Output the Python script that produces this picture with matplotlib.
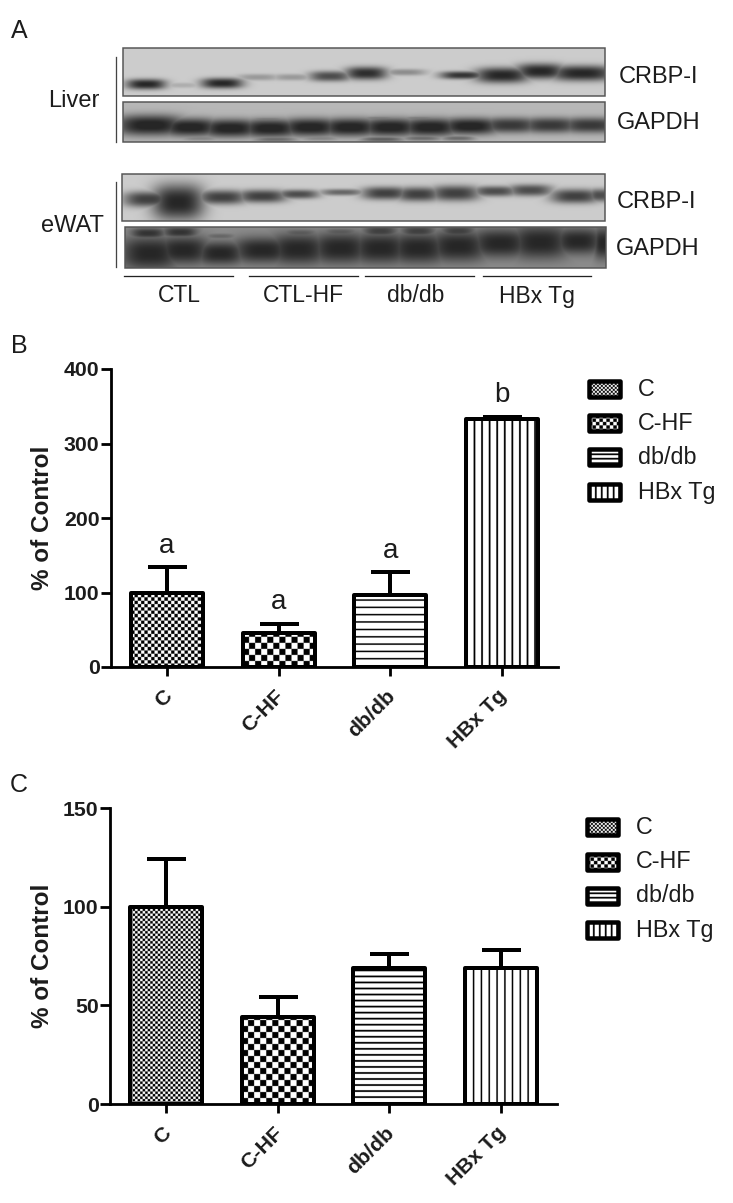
import matplotlib
matplotlib.use('Agg')
import matplotlib.pyplot as plt
import numpy as np
from matplotlib.patches import Rectangle

W, H = 733, 1203
plt.rcParams['font.family'] = ['Liberation Sans', 'DejaVu Sans']

groups = ['C', 'C-HF', 'db/db', 'HBx Tg']
blot_groups = ['CTL', 'CTL-HF', 'db/db', 'HBx Tg']

# panel B
b_vals = [100, 45, 97, 333]
b_tops = [134, 58, 127, 336]
b_ticks = [0, 100, 200, 300, 400]
b_letters = ['a', 'a', 'a', 'b']

# panel C
c_vals = [100, 44, 69, 69]
c_tops = [124, 54, 76, 78]
c_ticks = [0, 50, 100, 150]

# blot bands: x, y, half width, half height, darkness (pixels on the page)
liver_crbp = [(146, 84, 16, 4, .65), (182, 85, 16, 2, .12), (222, 83, 17, 4, .65),
              (258, 77, 17, 2.5, .2), (292, 77, 16, 2.5, .2), (330, 76, 17, 4, .5),
              (366, 73, 17, 5, .62), (405, 72, 17, 2.5, .25), (462, 75, 18, 3, .6),
              (502, 75, 22, 6, .65), (540, 71, 20, 6, .65), (582, 73, 26, 6, .65)]
liver_gapdh = [(150, 125, 28, 8, .6), (190, 127, 24, 7, .6), (230, 128, 24, 7, .6),
               (270, 128, 24, 7, .6), (310, 127, 24, 7, .6), (350, 127, 24, 7, .6),
               (390, 127, 24, 7, .6), (430, 127, 24, 7, .6), (470, 126, 24, 6.5, .6),
               (510, 125, 24, 6, .5), (550, 125, 24, 6, .5), (590, 125, 24, 6, .5),
               (190, 118, 14, 1.5, .2), (228, 118, 14, 1.5, .15), (268, 119, 16, 1.5, .25),
               (305, 119, 16, 1.5, .25), (345, 119, 16, 1.5, .25), (380, 118, 16, 1.5, .25),
               (420, 118, 16, 1.5, .25), (458, 118, 16, 1.5, .2),
               (200, 138, 16, 2, .2), (275, 139, 18, 2, .3), (320, 138, 16, 2, .2),
               (382, 139, 18, 2, .35), (422, 138, 16, 2, .3), (458, 138, 14, 2, .3)]
ewat_crbp = [(148, 199, 20, 6, .55), (178, 202, 21, 14, .65), (222, 197, 20, 5.5, .55),
             (262, 196, 20, 5, .55), (298, 194, 17, 3.5, .5), (342, 192, 18, 2.5, .4),
             (385, 193, 19, 5, .55), (418, 194, 18, 5.5, .55), (455, 193, 20, 6, .55),
             (495, 191, 18, 4, .5), (530, 190, 18, 4.5, .5), (575, 196, 20, 5.5, .55),
             (600, 195, 10, 5, .5)]
ewat_gapdh = [(150, 253, 24, 13, .4), (183, 250, 22, 11, .4), (220, 253, 20, 9, .4),
              (262, 250, 24, 10, .4), (298, 249, 24, 12, .4), (340, 248, 24, 12, .4),
              (380, 248, 24, 12, .4), (418, 248, 24, 12, .4), (458, 246, 24, 12, .4),
              (500, 243, 24, 11, .4), (540, 242, 24, 13, .4), (578, 241, 20, 10, .4),
              (603, 243, 8, 12, .4), (148, 233, 14, 4, .35), (180, 232, 14, 4, .35),
              (220, 236, 12, 2, .15), (300, 233, 14, 3, .2), (340, 232, 14, 3, .2),
              (380, 231, 14, 4, .3), (418, 231, 14, 4, .3), (458, 231, 14, 4, .3)]

fig = plt.figure(figsize=(W/100, H/100), dpi=100)
px = 0.72  # one pixel in points
ink = '#1c1c1c'


def px_axes(l, t, r, b):
    return fig.add_axes([l/W, 1-b/H, (r-l)/W, (b-t)/H])


def pattern(kind, w, h, fine=3.3, check=6, hgap=7, vgap=7.6, thick=1.5):
    # drawn at 4x so thin lines stay smooth
    yy, xx = np.indices((int(h*4)+1, int(w*4)+1))/4
    if kind == 'fine':
        return ((np.floor(xx/fine) + np.floor(yy/fine)) % 2)*1.0
    if kind == 'check':
        return ((np.floor(xx/check) + np.floor(yy/check)) % 2)*1.0
    if kind == 'hlines':
        return (yy % hgap > thick)*1.0
    return (xx % vgap > thick)*1.0


kinds = ['fine', 'check', 'hlines', 'vlines']

page = fig.add_axes([0, 0, 1, 1], zorder=5)
page.patch.set_alpha(0)
page.axis('off')


def draw_blot(l, t, r, b, bg, bands):
    yy, xx = np.mgrid[t:b:0.5, l:r:0.5]
    dark = np.zeros(xx.shape)
    for x, y, w, h, d in bands:
        band = d*np.exp(-np.abs((xx-x)/(w*1.25))**3 - np.abs((yy-y)/(h*1.3))**2.5)
        dark = np.maximum(dark, band)
    page.imshow(np.clip(bg-dark, 0.15, 1), cmap='gray', vmin=0, vmax=1, extent=(l, r, b, t),
                aspect='auto', interpolation='bilinear')
    page.add_patch(Rectangle((l, t), r-l, b-t, fill=False, ec='#555555', lw=1.5*px))


draw_blot(123, 48, 605, 96, .80, liver_crbp)
draw_blot(123, 102, 605, 142, .72, liver_gapdh)
draw_blot(122, 174, 605, 221, .80, ewat_crbp)
draw_blot(125, 227, 606, 268, .55, ewat_gapdh)

page.plot([116, 116], [57, 142], color='#444444', lw=1.3*px)
page.plot([116, 116], [182, 267], color='#444444', lw=1.3*px)
for (x0, x1), name, tx in zip([(124, 233), (249, 358), (365, 474), (483, 591)], blot_groups,
                              [179, 303, 416, 537]):
    page.plot([x0, x1], [276, 276], color='#222222', lw=1.3*px)
    page.text(tx, 296, name, fontsize=16.5, ha='center', va='center', color=ink)

for label, x, y in [('Liver', 74, 101), ('eWAT', 72, 226)]:
    page.text(x, y, label, fontsize=17, ha='center', va='center', color=ink)
for label, x, y in [('CRBP-I', 658, 77), ('GAPDH', 659, 123), ('CRBP-I', 657, 202), ('GAPDH', 658, 249)]:
    page.text(x, y, label, fontsize=17, ha='center', va='center', color=ink)
for label, x, y in [('A', 19, 31), ('B', 19, 346), ('C', 19, 785)]:
    page.text(x, y, label, fontsize=18, ha='center', va='center', color=ink)


def draw_panel(box, vals, tops, ticks, ymax, letters=None, **pat):
    ax = px_axes(*box)
    width = 0.645
    xs = np.arange(len(vals))
    bar_px = width*(box[2]-box[0])/4
    h_px = (box[3]-box[1])/ymax
    for i, (x, v, top) in enumerate(zip(xs, vals, tops)):
        ax.errorbar(x, v, yerr=[[0], [top-v]], color='black', elinewidth=4*px, capsize=19.5*px,
                    capthick=4*px, zorder=2, clip_on=False)
        ax.imshow(pattern(kinds[i], bar_px, v*h_px, **pat), cmap='gray', vmin=0, vmax=1,
                  aspect='auto', origin='lower',
                  extent=(x-width/2, x+width/2, 0, v), zorder=3)
        ax.bar(x, v, width, facecolor='none', edgecolor='black', linewidth=4*px, zorder=4,
               joinstyle='round')
        if letters:
            ax.annotate(letters[i], (x, top), xytext=(0, 6), textcoords='offset points',
                        ha='center', va='bottom', fontsize=20, color=ink)
        # tick labels sit left of their ticks in the original
        ax.annotate(groups[i], (x, 0), xycoords=('data', 'axes fraction'),
                    xytext=(2*px, -26*px), textcoords='offset points', rotation=45,
                    rotation_mode='anchor', ha='right', va='center', fontsize=15.3,
                    fontweight='bold', color=ink, annotation_clip=False)
    ax.set_xlim(-0.5, 3.5)
    ax.set_ylim(0, ymax)
    ax.set_xticks(xs)
    ax.set_xticklabels([])
    ax.set_yticks(ticks)
    ax.tick_params(axis='y', labelsize=15.3, width=2.8*px, length=10*px, pad=1, labelcolor=ink)
    ax.tick_params(axis='x', width=2.8*px, length=9*px, pad=6)
    for t in ax.get_yticklabels():
        t.set_fontweight('bold')
    ax.set_ylabel('% of Control', fontsize=17.5, fontweight='bold', color=ink)
    ax.yaxis.set_label_coords((54-box[0])/(box[2]-box[0]), 0.5)
    for s in ['top', 'right']:
        ax.spines[s].set_visible(False)
    for s in ['left', 'bottom']:
        ax.spines[s].set_linewidth(2.8*px)
    return ax


draw_panel((111, 369, 558, 667), b_vals, b_tops, b_ticks, 400, b_letters, fine=3.3, hgap=7.3, vgap=7.5)
draw_panel((110, 808, 557, 1104), c_vals, c_tops, c_ticks, 150, fine=2.5, hgap=6, vgap=7.7)


def draw_legend(x, ys, tx):
    for name, y, kind in zip(groups, ys, kinds):
        page.imshow(pattern(kind, 31, 16, fine=2, check=3.5, hgap=4.5, vgap=6, thick=1.5),
                    cmap='gray', vmin=0, vmax=1, aspect='auto',
                    extent=(x, x+31, y+8, y-8), zorder=3)
        page.add_patch(Rectangle((x, y-8), 31, 16, fill=False, ec='black', lw=4.5*px, zorder=4,
                                 joinstyle='round'))
        page.text(tx, y, name, fontsize=16.8, va='center', ha='left', color=ink)


draw_legend(589, [389, 423, 457, 492], 638)
draw_legend(587, [827, 862, 896, 930], 636)
page.set_xlim(0, W)
page.set_ylim(H, 0)

plt.savefig('out.png', dpi=100)
